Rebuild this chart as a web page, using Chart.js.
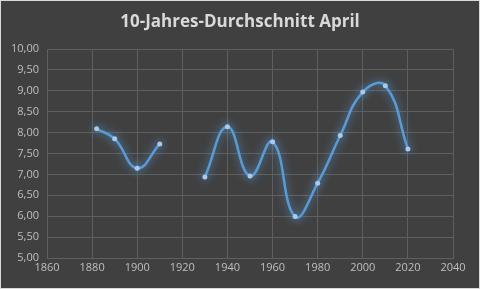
<!DOCTYPE html>
<html>
<head>
<meta charset="utf-8">
<script src="https://cdn.jsdelivr.net/npm/chart.js@4/dist/chart.umd.min.js"></script>
<style>
  html, body { margin: 0; padding: 0; background: #404040; }
  #wrap { width: 480px; height: 289px; }
</style>
</head>
<body>
<div id="wrap"><canvas id="aprilChart" width="480" height="289"></canvas></div>
<script>
// Jahre und 10-Jahres-Mittelwerte (1920 fehlt -> Lücke)
const years  = [1882, 1890, 1900, 1910, 1920, 1930, 1940, 1950, 1960, 1970, 1980, 1990, 2000, 2010, 2020];
const values = [8.09, 7.85, 7.15, 7.73, null, 6.94, 8.14, 6.96, 7.78, 5.99, 6.79, 7.93, 8.97, 9.12, 7.61];
const chartTitle = '10-Jahres-Durchschnitt April';

const points = years.map((y, i) => ({ x: y, y: values[i] }));

const fmt = new Intl.NumberFormat('de-DE', { minimumFractionDigits: 2, maximumFractionDigits: 2 });

// Hintergrund, heller Rahmen und Titel (mittig über dem ganzen Bild)
const bgPlugin = {
    id: 'bg',
    beforeDraw(chart) {
        const c = chart.ctx;
        c.save();
        c.fillStyle = '#d9d9d9';
        c.fillRect(0, 0, chart.width, chart.height);
        c.fillStyle = '#404040';
        c.fillRect(1, 1, chart.width - 2, chart.height - 2);
        c.fillStyle = '#d9d9d9';
        c.font = 'bold 17px "Open Sans"';
        c.textAlign = 'center';
        c.textBaseline = 'middle';
        c.fillText(chartTitle, chart.width / 2, 22);
        c.restore();
    }
};

// Leuchteffekt um die Linie
const glowPlugin = {
    id: 'glow',
    beforeDatasetsDraw(chart) {
        chart.ctx.save();
        chart.ctx.shadowColor = 'rgba(91,155,213,0.95)';
        chart.ctx.shadowBlur = 10;
    },
    afterDatasetsDraw(chart) {
        chart.ctx.restore();
    }
};

const ctx = document.getElementById('aprilChart').getContext('2d');
const aprilChart = new Chart(ctx, {
    type: 'line',
    data: {
        datasets: [{
            data: points,
            borderColor: '#5b9bd5',
            borderWidth: 2.5,
            tension: 0.45,
            spanGaps: false,
            pointRadius: 2.5,
            pointBackgroundColor: '#a9c9ef',
            pointBorderColor: '#a9c9ef',
            pointBorderWidth: 0
        }]
    },
    options: {
        responsive: false,
        animation: false,
        layout: { padding: { left: 0, right: 27, top: 49, bottom: 0 } },
        plugins: {
            legend: { display: false },
            tooltip: { enabled: false },
            title: { display: false }
        },
        scales: {
            x: {
                type: 'linear',
                min: 1860,
                max: 2040,
                ticks: {
                    stepSize: 20,
                    color: '#bfbfbf',
                    font: { family: 'Open Sans', size: 11 },
                    padding: 3,
                    maxRotation: 0,
                    callback: v => String(v)
                },
                grid: { color: '#5f5f5f', lineWidth: 1, drawTicks: false },
                border: { color: '#5f5f5f' },
                afterFit(scale) { scale.height = 31; }
            },
            y: {
                min: 5,
                max: 10,
                ticks: {
                    stepSize: 0.5,
                    color: '#bfbfbf',
                    font: { family: 'Open Sans', size: 11 },
                    padding: 8,
                    callback: v => fmt.format(v)
                },
                grid: { color: '#5f5f5f', lineWidth: 1, drawTicks: false },
                border: { display: false },
                afterFit(scale) { scale.width = 47; }
            }
        }
    },
    plugins: [bgPlugin, glowPlugin]
});
</script>
</body>
</html>
